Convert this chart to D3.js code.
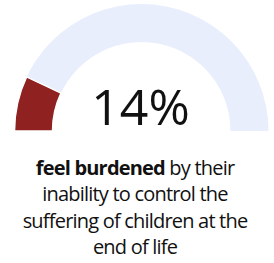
<!DOCTYPE html>
<html><head><meta charset="utf-8">
<script src="https://cdn.jsdelivr.net/npm/d3@7"></script>
<style>
html,body{margin:0;padding:0;background:#fff;}
svg{display:block;}
</style></head>
<body>
<svg id="c" width="274" height="263"></svg>
<script>
const value = 14;
const total = 100;
const valueLabel = "14%";
const captionLines = [["feel burdened", " by their"], ["", "inability to control the"], ["", "suffering of children at the"], ["", "end of life"]];

const svg = d3.select("#c");
const cx = 141.5, cy = 131, rOuter = 127, rInner = 89;
const angle = d3.scaleLinear().domain([0, total]).range([-Math.PI/2, Math.PI/2]);
const g = svg.append("g").attr("transform", `translate(${cx},${cy})`);
const arc = d3.arc().innerRadius(rInner).outerRadius(rOuter);
g.append("path").attr("d", arc({startAngle: angle(0), endAngle: angle(total)})).attr("fill", "#e8eefc");
g.append("path").attr("d", arc({startAngle: angle(0), endAngle: angle(value)}))
  .attr("fill", "#8f2220").attr("stroke", "#fff").attr("stroke-width", 1.5);

svg.append("text").attr("x", 140.5).attr("y", 125).attr("text-anchor", "middle")
  .attr("font-family", "Open Sans").attr("font-size", 50).attr("fill", "#111")
  .text(valueLabel);

const cap = svg.append("text").attr("text-anchor", "middle")
  .attr("font-family", "Open Sans").attr("font-size", 20).attr("fill", "#111")
  .attr("letter-spacing", -0.8);
captionLines.forEach((ln, i) => {
  const t = cap.append("tspan").attr("x", 135).attr("y", 175 + i * 26.3);
  if (ln[0]) t.append("tspan").attr("font-weight", 700).text(ln[0]);
  t.append("tspan").text(ln[1]);
});
</script>
</body></html>
